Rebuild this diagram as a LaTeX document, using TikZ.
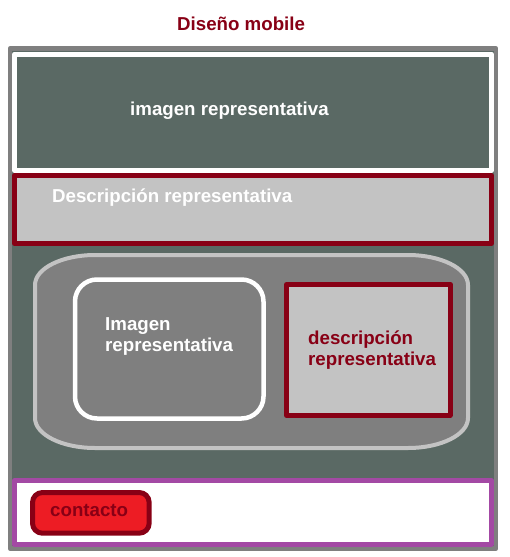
\documentclass[tikz,border=0pt]{standalone}
\usepackage{fontspec}
\setmainfont{Liberation Sans}
\usetikzlibrary{positioning}
\definecolor{slate}{HTML}{5A6964}
\definecolor{darkred}{HTML}{880015}
\definecolor{btnred}{HTML}{ED1C24}
\definecolor{lgray}{HTML}{C3C3C3}
\definecolor{mgray}{HTML}{7F7F7F}
\definecolor{lila}{HTML}{A349A4}
\tikzset{
	box/.style={draw=#1, line width=5pt, inner sep=0pt},
	lbl/.style={font=\bfseries\fontsize{18.7}{21}\selectfont, inner sep=0pt, anchor=base west, align=left},
}
\begin{document}
\begin{tikzpicture}[x=1pt, y=-1pt, line join=round]
	\useasboundingbox (0,0) rectangle (510,557);
	\node[lbl, text=darkred] (title) at (177,30) {Diseño mobile};
	\node[box=mgray, line width=4.5pt, fill=slate, minimum width=486pt, minimum height=500pt] (frame) at (253,298.5) {};
	\node[box=white, fill=slate, minimum width=477pt, minimum height=116.5pt] (hero) at (253,112.25) {};
	\node[box=darkred, fill=lgray, minimum width=476.8pt, minimum height=67.8pt] (desc) at (252.9,209.4) {};
	% tarjeta con esquinas elipticas
	\draw[draw=lgray, fill=mgray, line width=4pt] (95,255) -- (408,255)
		arc[start angle=-90, delta angle=90, x radius=60, y radius=30] -- (468,418)
		arc[start angle=0, delta angle=90, x radius=60, y radius=30] -- (95,448)
		arc[start angle=90, delta angle=90, x radius=60, y radius=30] -- (35,285)
		arc[start angle=180, delta angle=90, x radius=60, y radius=30] -- cycle;
	\node[box=white, line width=4.5pt, fill=mgray, rounded corners=22pt, minimum width=188.5pt, minimum height=139pt] (imgcard) at (169.25,349) {};
	\node[box=darkred, fill=lgray, minimum width=163.7pt, minimum height=130.8pt] (desccard) at (368.35,349.9) {};
	\node[box=lila, fill=white, minimum width=477pt, minimum height=63.3pt] (footer) at (253,512.35) {};
	\node[box=darkred, fill=btnred, rounded corners=10pt, minimum width=116.7pt, minimum height=40.7pt] (btn) at (90.85,512.85) {};
	\node[lbl, text=white] (herotxt) at (130,115.7) {imagen representativa};
	\node[lbl, text=white] (desctxt) at (52,202.7) {Descripción representativa};
	\node[lbl, text=white] (imgtxt) at (105,351) {Imagen\\representativa};
	\node[lbl, text=darkred] (cardtxt) at (308,365.3) {descripción\\representativa};
	\node[lbl, text=darkred] (btntxt) at (50,516.7) {contacto};
\end{tikzpicture}
\end{document}
